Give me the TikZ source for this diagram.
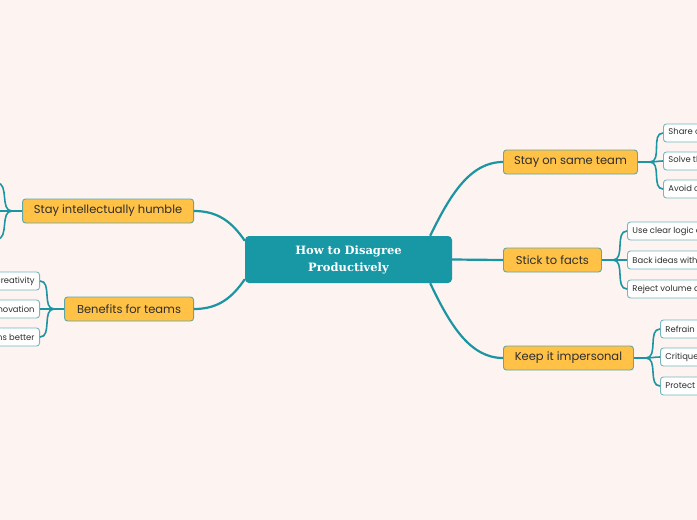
\documentclass[tikz,border=0pt]{standalone}
\usepackage{fontspec}
\setmainfont{Poppins}
\newfontfamily\titlefont{DejaVu Serif}
\usetikzlibrary{calc}
\definecolor{bgc}{HTML}{FDF3F1}
\definecolor{tealc}{HTML}{1897A5}
\definecolor{linec}{HTML}{1C95A3}
\definecolor{topicfill}{HTML}{FFC247}
\definecolor{topicborder}{HTML}{5EA7A6}
\definecolor{leafborder}{HTML}{72B6BE}
\definecolor{txt}{HTML}{2E2E2E}
\tikzset{
  x=1pt, y=-1pt,
  centralbox/.style={fill=tealc, rounded corners=4pt, minimum width=207pt, minimum height=47pt,
    text=white, font=\titlefont\bfseries\fontsize{11.5}{17}\selectfont, align=center, inner sep=0pt},
  topicbox/.style={fill=topicfill, draw=topicborder, line width=0.9pt, rounded corners=3pt,
    minimum height=24pt, inner sep=0pt, text=txt, font=\fontsize{11.5}{13}\selectfont},
  leafbox/.style={fill=white, draw=leafborder, line width=0.9pt, rounded corners=3pt,
    minimum height=18pt, inner xsep=5pt, inner ysep=0pt, text=txt, font=\fontsize{8.4}{9}\selectfont},
  mainlink/.style={draw=linec, line width=2.2pt},
  sublink/.style={draw=linec, line width=1.6pt},
}
\begin{document}
\begin{tikzpicture}
\useasboundingbox (0,0) rectangle (697,520);
\fill[bgc] (0,0) rectangle (697,520);
\clip (0,0) rectangle (697,520);

% central
\node[centralbox] (c) at (348.5,259.5) {How to Disagree\\Productively};

% topics
\node[topicbox, minimum width=134pt, anchor=west] (t1) at (503,162) {Stay on same team};
\node[topicbox, minimum width=98pt, anchor=west] (t2) at (503,260) {Stick to facts};
\node[topicbox, minimum width=130pt, anchor=west] (t3) at (503,358) {Keep it impersonal};
\node[topicbox, minimum width=171pt, anchor=east] (t4) at (194,211) {Stay intellectually humble};
\node[topicbox, minimum width=129pt, anchor=east] (t5) at (194,309) {Benefits for teams};

% leaves
\node[leafbox, anchor=west] (l11) at (663,133) {Share common goals};
\node[leafbox, anchor=west] (l12) at (663,161) {Solve the problem together};
\node[leafbox, anchor=west] (l13) at (663,189) {Avoid competing};
\node[leafbox, anchor=west] (l21) at (627,231) {Use clear logic and reasoning};
\node[leafbox, anchor=west] (l22) at (627,260) {Back ideas with evidence};
\node[leafbox, anchor=west] (l23) at (627,289) {Reject volume as proof};
\node[leafbox, anchor=west] (l31) at (660,329) {Refrain from attacks};
\node[leafbox, anchor=west] (l32) at (660,357) {Critique ideas, not people};
\node[leafbox, anchor=west] (l33) at (660,386) {Protect relationships};
\node[leafbox, anchor=east] (l51) at (40,281) {Sparks creativity};
\node[leafbox, anchor=east] (l52) at (40,309) {Drives innovation};
\node[leafbox, anchor=east] (l53) at (40,337) {Makes decisions better};
\coordinate (l41) at (-3,183);
\coordinate (l42) at (-3,211);
\coordinate (l43) at (-3,239);

% main links
\coordinate (c1) at ($(c.north east)+(-22,0)$);
\coordinate (c3) at ($(c.south east)+(-22,0)$);
\coordinate (c4) at ($(c.north west)+(0,5)$);
\coordinate (c5) at ($(c.south west)+(0,-4)$);
\draw[mainlink] (c1) .. controls (450,195) and (470,162) .. (t1.west);
\draw[mainlink] (c.east) -- (t2.west);
\draw[mainlink] (c3) .. controls (450,325) and (470,358) .. (t3.west);
\draw[mainlink] (c4) .. controls (232,222) and (218,211) .. (t4.east);
\draw[mainlink] (c5) .. controls (232,298) and (218,309) .. (t5.east);

% sub links
\coordinate (f1) at (650,162);
\coordinate (f2) at (613,260);
\coordinate (f3) at (646,358);
\coordinate (f4) at (12,211);
\coordinate (f5) at (54,309);
\draw[sublink] (t1.east) -- (f1);
\foreach \l in {l11,l12,l13} \draw[sublink] (f1) to[out=0,in=180] (\l.west);
\draw[sublink] (t2.east) -- (f2);
\foreach \l in {l21,l22,l23} \draw[sublink] (f2) to[out=0,in=180] (\l.west);
\draw[sublink] (t3.east) -- (f3);
\foreach \l in {l31,l32,l33} \draw[sublink] (f3) to[out=0,in=180] (\l.west);
\draw[sublink] (t4.west) -- (f4);
\foreach \l in {l41,l42,l43} \draw[sublink] (f4) to[out=180,in=0] (\l);
\draw[sublink] (t5.west) -- (f5);
\foreach \l in {l51,l52,l53} \draw[sublink] (f5) to[out=180,in=0] (\l.east);
\end{tikzpicture}
\end{document}
